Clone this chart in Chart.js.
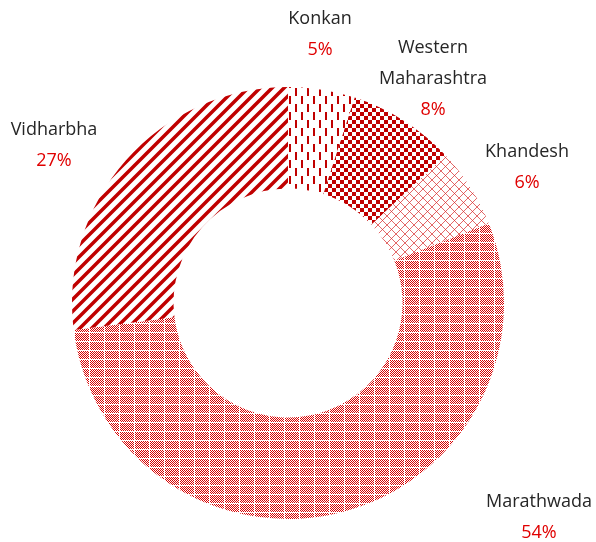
<!DOCTYPE html>
<html>
<head>
<meta charset="utf-8">
<script src="https://cdn.jsdelivr.net/npm/chart.js@4/dist/chart.umd.min.js"></script>
<style>
  body { margin: 0; background: #fff; }
  #chart { display: block; }
</style>
</head>
<body>
<canvas id="chart" width="596" height="542"></canvas>
<script>
const regions = [['Konkan'], ['Western', 'Maharashtra'], ['Khandesh'], ['Marathwada'], ['Vidharbha']];
const shares = [5, 8, 6, 54, 27];

const RED = '#c00000';

// small tiles for the hatch fills
function makePattern(w, h, draw) {
    const c = document.createElement('canvas');
    c.width = w;
    c.height = h;
    const g = c.getContext('2d');
    g.fillStyle = '#fff';
    g.fillRect(0, 0, w, h);
    draw(g);
    return document.createElement('canvas').getContext('2d').createPattern(c, 'repeat');
}

const dashPattern = makePattern(12, 16, g => {
    g.fillStyle = RED;
    g.fillRect(1, 0, 2, 8);
    g.fillRect(7, 8, 2, 8);
});

const checkPattern = makePattern(8, 8, g => {
    g.fillStyle = RED;
    g.fillRect(0, 0, 4, 4);
    g.fillRect(4, 4, 4, 4);
});

const crossPattern = makePattern(9, 9, g => {
    g.strokeStyle = 'rgba(215, 40, 40, 0.7)';
    g.lineWidth = 1;
    g.beginPath();
    g.moveTo(-1, -1); g.lineTo(10, 10);
    g.moveTo(-1, 10); g.lineTo(10, -1);
    g.stroke();
});

const plaidPattern = makePattern(15, 9, g => {
    g.fillStyle = '#d80000';
    for (let x = 0; x < 14; x++) {
        for (let y = 0; y < 8; y++) {
            if ((x + y) % 2 === 0) g.fillRect(x, y, 1, 1);
        }
    }
});

const stripePattern = makePattern(12, 12, g => {
    g.strokeStyle = RED;
    g.lineWidth = 3.5;
    g.beginPath();
    g.moveTo(-1, 13); g.lineTo(13, -1);
    g.moveTo(-5, 5); g.lineTo(5, -5);
    g.moveTo(7, 17); g.lineTo(17, 7);
    g.stroke();
});

// where each label block sits, relative to the doughnut centre
const labelOffsets = [[32, -279], [145, -250], [239, -146], [251, 204], [-234, -168]];

const labelPlugin = {
    id: 'sliceLabels',
    afterDraw(chart) {
        const ctx = chart.ctx;
        const arc = chart.getDatasetMeta(0).data[0];
        const total = shares.reduce((a, b) => a + b, 0);
        ctx.save();
        ctx.font = '18px "Open Sans"';
        ctx.textAlign = 'center';
        ctx.textBaseline = 'alphabetic';
        regions.forEach((lines, i) => {
            const x = arc.x + labelOffsets[i][0];
            let y = arc.y + labelOffsets[i][1];
            ctx.fillStyle = '#262626';
            lines.forEach(line => {
                ctx.fillText(line, x, y);
                y += 31;
            });
            ctx.fillStyle = '#e00000';
            ctx.fillText(Math.round(shares[i] / total * 100) + '%', x, y);
        });
        ctx.restore();
    }
};

new Chart(document.getElementById('chart'), {
    type: 'doughnut',
    data: {
        labels: regions.map(l => l.join(' ')),
        datasets: [{
            data: shares,
            backgroundColor: [dashPattern, checkPattern, crossPattern, plaidPattern, stripePattern],
            borderWidth: 0
        }]
    },
    options: {
        responsive: false,
        animation: false,
        cutout: '53%',
        layout: { padding: { left: 72, right: 92, top: 87, bottom: 23 } },
        plugins: {
            legend: { display: false },
            tooltip: { enabled: false }
        }
    },
    plugins: [labelPlugin]
});
</script>
</body>
</html>
